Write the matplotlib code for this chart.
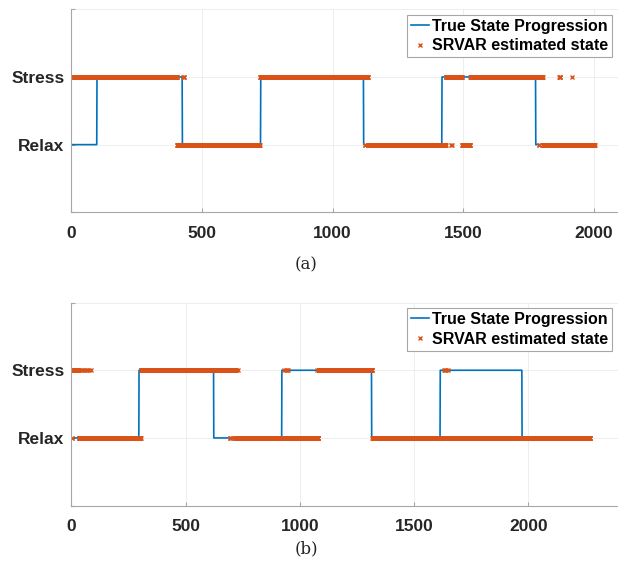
import numpy as np
import matplotlib
matplotlib.use("Agg")
import matplotlib.pyplot as plt

plt.rcParams['font.family'] = ['Liberation Sans', 'DejaVu Sans']

# state codes: 1 = Relax, 2 = Stress
state_labels = ['Relax', 'Stress']

# (a) true state, run starts (sample index) and state of each run
a_n = 2003
a_true_starts = [1, 98, 425, 725, 1119, 1419, 1778]
a_true_states = [1, 2, 1, 2, 1, 2, 1]
# (a) SRVAR estimate: main runs + single samples that flip
a_est_starts = [1, 405, 722, 1136, 1434, 1496, 1528, 1805]
a_est_states = [2, 1, 2, 1, 2, 1, 2, 1]
a_est_flips = [428, 430, 432, 1123, 1124, 1455, 1456, 1789, 1791,
               1868, 1869, 1870, 1871, 1917]

# (b)
b_n = 2270
b_true_starts = [1, 296, 623, 921, 1314, 1614, 1972]
b_true_states = [1, 2, 1, 2, 1, 2, 1]
b_est_starts = [1, 3, 33, 86, 304, 695, 698, 717, 731, 1074, 1075, 1082, 1317]
b_est_states = [1, 2, 1, 1, 2, 1, 2, 1, 1, 2, 1, 2, 1]
b_est_flips = [40, 48, 55, 63, 70, 78, 85, 720, 721, 727, 932, 937, 942, 947,
               1630, 1636, 1641, 1646]


def expand(starts, states, n, flips=()):
    lengths = np.diff(list(starts) + [n + 1])
    s = np.repeat(states, lengths)
    for f in flips:
        s[f - 1] = 3 - s[f - 1]
    return s


fig = plt.figure(figsize=(6.18, 5.67), dpi=100)
W, H = 618.0, 567.0

panels = [
    (a_n, a_true_starts, a_true_states, a_est_starts, a_est_states, a_est_flips,
     2100, 9.3, '(a)', 265),
    (b_n, b_true_starts, b_true_states, b_est_starts, b_est_states, b_est_flips,
     2400, 302.6, '(b)', 549),
]

for n, ts, tst, es, est_st, fl, xmax, top_px, cap, cap_y in panels:
    ax = fig.add_axes([71.4 / W, 1 - (top_px + 203) / H, 548.5 / W, 203 / H])
    x = np.arange(1, n + 1)
    true = expand(ts, tst, n)
    est = expand(es, est_st, n, fl)
    ax.plot(x, true, color='#0072BD', lw=1.2, label='True State Progression')
    ax.plot(x, est, 'x', color='#D95319', ms=3.5, mew=1.0, label='SRVAR estimated state')

    ax.set_xlim(0, xmax)
    ax.set_ylim(0, 3)
    ax.set_xticks([0, 500, 1000, 1500, 2000])
    ax.set_yticks([0, 1, 2, 3])
    ax.set_yticklabels([''] + state_labels + [''])
    ax.grid(True, color='#ebebeb', lw=0.6)
    ax.set_axisbelow(True)
    for s in ['top', 'right']:
        ax.spines[s].set_visible(False)
    for s in ['left', 'bottom']:
        ax.spines[s].set_color('#a6a6a6')
        ax.spines[s].set_linewidth(0.8)
    ax.tick_params(axis='both', direction='in', length=3, color='#a6a6a6',
                   labelsize=12.5, labelcolor='#262626')
    ax.tick_params(axis='x', pad=10)
    ax.tick_params(axis='y', pad=5)
    for lab in ax.get_xticklabels() + ax.get_yticklabels():
        lab.set_fontweight('bold')

    leg = ax.legend(loc='upper right', bbox_to_anchor=(612 / W, 1 - (top_px + 5.4) / H),
                    bbox_transform=fig.transFigure, borderaxespad=0,
                    fancybox=False, framealpha=1, edgecolor='#a6a6a6',
                    prop={'weight': 'bold', 'size': 11.5}, handlelength=1.1,
                    handletextpad=0.2, borderpad=0.25, labelspacing=0.3)
    leg.get_frame().set_linewidth(0.8)

    fig.text(306 / W, 1 - cap_y / H, cap, family='DejaVu Serif', fontsize=12,
             ha='center', va='center', color='#222222')

fig.savefig('out.png', dpi=100)
